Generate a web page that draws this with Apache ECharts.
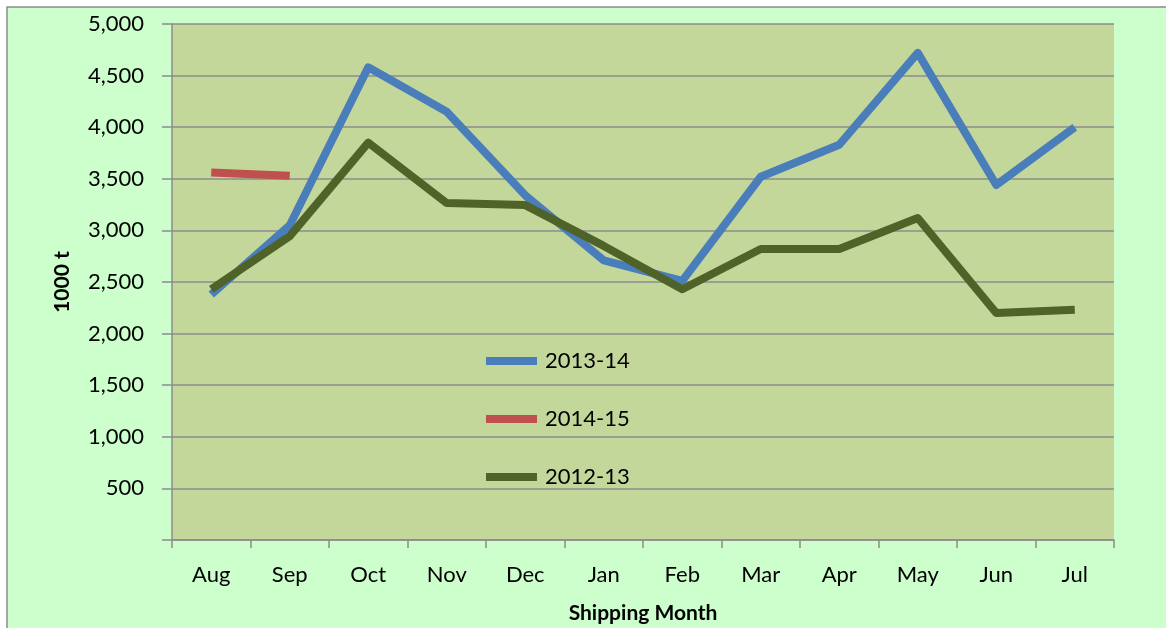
<!DOCTYPE html>
<html>
<head>
<meta charset="utf-8">
<script src="https://cdn.jsdelivr.net/npm/echarts@6/dist/echarts.min.js"></script>
<style>
  html, body { margin: 0; padding: 0; background: #fff; }
  #chart { width: 1166px; height: 628px; }
</style>
</head>
<body>
<div id="chart"></div>
<script>
const months = ["Aug", "Sep", "Oct", "Nov", "Dec", "Jan", "Feb", "Mar", "Apr", "May", "Jun", "Jul"];
const s2013_14 = [2380, 3050, 4580, 4150, 3340, 2710, 2510, 3520, 3830, 4720, 3440, 4000];
const s2014_15 = [3560, 3530, null, null, null, null, null, null, null, null, null, null];
const s2012_13 = [2430, 2945, 3850, 3265, 3245, 2850, 2430, 2820, 2820, 3120, 2200, 2230];

const chart = echarts.init(document.getElementById("chart"));
const font = "Lato, 'Open Sans', sans-serif";
const gray = "#8c8c8c";

const option = {
  animation: false,
  textStyle: { fontFamily: font },
  graphic: [
    {
      type: "rect",
      z: -10,
      shape: { x: 7, y: 7, width: 1200, height: 700 },
      style: { fill: "#ccffcc", stroke: gray, lineWidth: 1.5 },
    },
  ],
  grid: {
    left: 172,
    top: 24,
    right: 52,
    bottom: 88,
    outerBoundsMode: "none",
    containLabel: false,
    show: true,
    backgroundColor: "#c4d79b",
    borderWidth: 0,
  },
  legend: {
    orient: "vertical",
    left: 481,
    top: 345,
    itemGap: 36,
    itemWidth: 51,
    itemHeight: 8,
    icon: "rect",
    textStyle: { fontSize: 22, color: "#000", fontFamily: font, padding: [0, 0, 0, 3] },
    data: ["2013-14", "2014-15", "2012-13"],
  },
  xAxis: {
    type: "category",
    data: months,
    boundaryGap: true,
    name: "Shipping Month",
    nameLocation: "middle",
    nameGap: 63,
    nameTextStyle: { fontSize: 21, fontWeight: "bold", color: "#000" },
    axisLine: { lineStyle: { color: gray, width: 1.5 } },
    axisTick: { show: true, length: 8, interval: 0, lineStyle: { color: gray, width: 1.5 } },
    axisLabel: { fontSize: 22, color: "#000", margin: 24, interval: 0 },
    splitLine: { show: false },
  },
  yAxis: {
    type: "value",
    min: 0,
    max: 5000,
    interval: 500,
    name: "1000 t",
    nameLocation: "middle",
    nameGap: 99,
    nameRotate: 90,
    nameTextStyle: { fontSize: 21, fontWeight: "bold", color: "#000" },
    axisLine: { show: true, lineStyle: { color: gray, width: 1.5 } },
    axisTick: { show: true, length: 10, lineStyle: { color: gray, width: 1.5 } },
    axisLabel: {
      fontSize: 22,
      color: "#000",
      margin: 28,
      formatter: (v) => (v === 0 ? "" : v.toLocaleString("en-US")),
    },
    splitLine: { show: true, lineStyle: { color: gray, width: 1.5 } },
  },
  series: [
    {
      name: "2013-14",
      type: "line",
      data: s2013_14,
      symbol: "none",
      color: "#4a7ebb",
      lineStyle: { width: 8, join: "round" },
    },
    {
      name: "2014-15",
      type: "line",
      data: s2014_15,
      symbol: "none",
      color: "#c0504d",
      lineStyle: { width: 8, join: "round" },
    },
    {
      name: "2012-13",
      type: "line",
      data: s2012_13,
      symbol: "none",
      color: "#4f6228",
      lineStyle: { width: 8, join: "round" },
    },
  ],
};

chart.setOption(option);
</script>
</body>
</html>
